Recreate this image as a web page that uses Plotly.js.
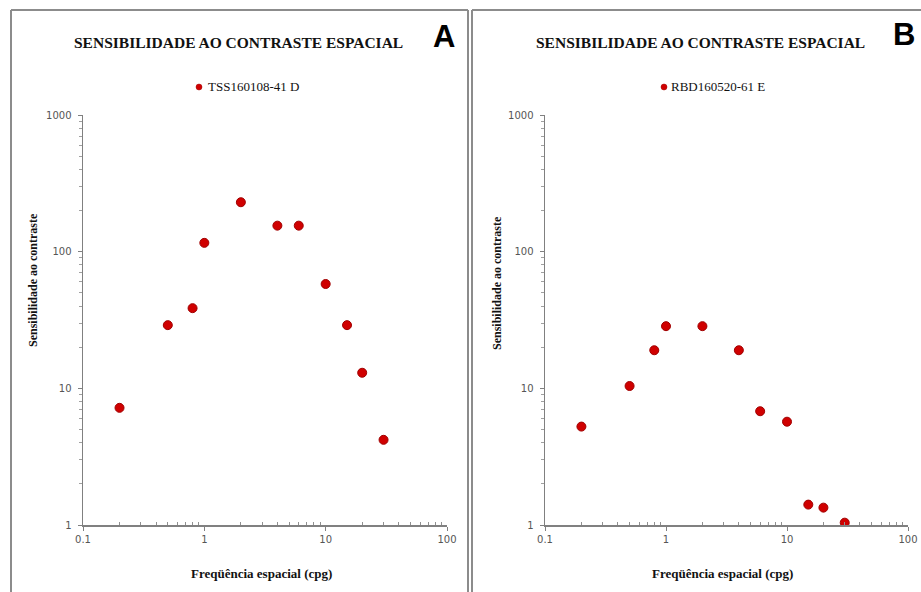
<!DOCTYPE html>
<html>
<head>
<meta charset="utf-8">
<script src="https://cdn.plot.ly/plotly-3.0.1.min.js"></script>
<style>html,body{margin:0;padding:0;background:#fff;}#chart{width:921px;height:592px;}</style>
</head>
<body>
<div id="chart"></div>
<script>
// Panel A data
const freqA = [0.2, 0.5, 0.8, 1, 2, 4, 6, 10, 15, 20, 30];
const sensA = [7.2, 29, 38.6, 116, 230, 155, 155, 58, 29, 13, 4.2];
const nameA = "TSS160108-41 D";
// Panel B data
const freqB = [0.2, 0.5, 0.8, 1, 2, 4, 6, 10, 15, 20, 30];
const sensB = [5.25, 10.4, 19, 28.5, 28.5, 19, 6.8, 5.7, 1.41, 1.34, 1.04];
const nameB = "RBD160520-61 E";
// Texts
const chartTitle = "SENSIBILIDADE AO CONTRASTE ESPACIAL";
const xTitle = "Freqüência espacial (cpg)";
const yTitle = "Sensibilidade ao contraste";
const panelLabels = ["A", "B"];
const xTickVals = [0.1, 1, 10, 100];
const xTickText = ["0.1", "1", "10", "100"];
const yTickVals = [1, 10, 100, 1000];
const yTickText = ["1", "10", "100", "1000"];

const W = 921, H = 592;
const px = v => v / W;
const py = v => 1 - v / H;

const red = '#d00000';
const markerStyle = {size: 9, color: red, line: {color: '#a00000', width: 1}};

const traces = [
  {x: freqA, y: sensA, type: 'scatter', mode: 'markers', name: nameA, xaxis: 'x', yaxis: 'y', marker: markerStyle, showlegend: false, hoverinfo: 'x+y'},
  {x: freqB, y: sensB, type: 'scatter', mode: 'markers', name: nameB, xaxis: 'x2', yaxis: 'y2', marker: markerStyle, showlegend: false, hoverinfo: 'x+y'}
];

const tickFont = {family: 'DejaVu Sans', size: 10, color: '#555'};
function xAxis(domain, anchor) {
  return {
    type: 'log', range: [-1, 2], domain: domain, anchor: anchor,
    tickvals: xTickVals, ticktext: xTickText, tickfont: tickFont,
    showline: true, linecolor: '#808080', linewidth: 1.5,
    ticks: 'outside', ticklen: 4, tickcolor: '#808080',
    minor: {tickvals: [0.2,0.3,0.4,0.5,0.6,0.7,0.8,0.9,2,3,4,5,6,7,8,9,20,30,40,50,60,70,80,90], ticks: 'inside', ticklen: 3, tickcolor: '#909090', showgrid: false},
    showgrid: false, zeroline: false, fixedrange: true
  };
}
function yAxis(domain, anchor) {
  return {
    type: 'log', range: [0, 3], domain: domain, anchor: anchor,
    tickvals: yTickVals, ticktext: yTickText, tickfont: tickFont,
    showline: true, linecolor: '#808080', linewidth: 1.5,
    ticks: 'outside', ticklen: 4, tickcolor: '#808080',
    minor: {tickvals: [2,3,4,5,6,7,8,9,20,30,40,50,60,70,80,90,200,300,400,500,600,700,800,900], ticks: 'outside', ticklen: 3, tickcolor: '#a0a0a0', showgrid: false},
    showgrid: false, zeroline: false, fixedrange: true, ticklabelstandoff: 4
  };
}

const yDom = [1 - 525 / H, 1 - 115 / H];
const serifBold = {family: 'Liberation Serif', color: '#111', weight: 'bold'};

function ann(text, x, y, size, opts) {
  return Object.assign({
    text: text, x: px(x), y: py(y), xref: 'paper', yref: 'paper',
    showarrow: false, xanchor: 'center', yanchor: 'middle',
    font: Object.assign({}, serifBold, {size: size})
  }, opts || {});
}

const annotations = [
  ann('<b>' + chartTitle + '</b>', 238, 42, 15.5),
  ann('<b>' + chartTitle + '</b>', 700, 42, 15.5),
  ann('<b>' + panelLabels[0] + '</b>', 444, 36, 31, {font: {family: 'Liberation Sans', size: 31, color: '#000'}}),
  ann('<b>' + panelLabels[1] + '</b>', 904, 35, 31, {font: {family: 'Liberation Sans', size: 31, color: '#000'}}),
  ann(nameA, 206, 87, 13, {xanchor: 'left', font: {family: 'Liberation Serif', size: 13, color: '#111'}}),
  ann(nameB, 669, 87, 13, {xanchor: 'left', font: {family: 'Liberation Serif', size: 13, color: '#111'}}),
  ann('<b>' + xTitle + '</b>', 261, 573, 13),
  ann('<b>' + xTitle + '</b>', 722, 573, 13),
  ann('<b>' + yTitle + '</b>', 33, 280, 12, {textangle: -90}),
  ann('<b>' + yTitle + '</b>', 497, 283, 12, {textangle: -90})
];

const border = '#8c8c8c';
function line(x0, y0, x1, y1) {
  return {type: 'line', xref: 'paper', yref: 'paper', x0: px(x0), y0: py(y0), x1: px(x1), y1: py(y1), line: {color: border, width: 2}};
}
function dot(cx, cy) {
  const r = 3;
  return {type: 'circle', xref: 'paper', yref: 'paper', x0: px(cx - r), x1: px(cx + r), y0: py(cy + r), y1: py(cy - r), fillcolor: red, line: {color: '#a00000', width: 0.5}};
}
const shapes = [
  line(11, 10, 11, 600),
  line(11, 10, 468, 10),
  line(468, 10, 468, 600),
  line(472, 10, 472, 600),
  line(472, 10, 925, 10),
  dot(199, 87),
  dot(664, 87)
];

const layout = {
  width: W, height: H,
  margin: {l: 0, r: 0, t: 0, b: 0},
  paper_bgcolor: '#fff', plot_bgcolor: '#fff',
  showlegend: false,
  xaxis: xAxis([83 / W, 447 / W], 'y'),
  yaxis: yAxis(yDom, 'x'),
  xaxis2: xAxis([545 / W, 908 / W], 'y2'),
  yaxis2: yAxis(yDom, 'x2'),
  annotations: annotations,
  shapes: shapes
};

Plotly.newPlot('chart', traces, layout, {displayModeBar: false, staticPlot: true});
</script>
</body>
</html>
